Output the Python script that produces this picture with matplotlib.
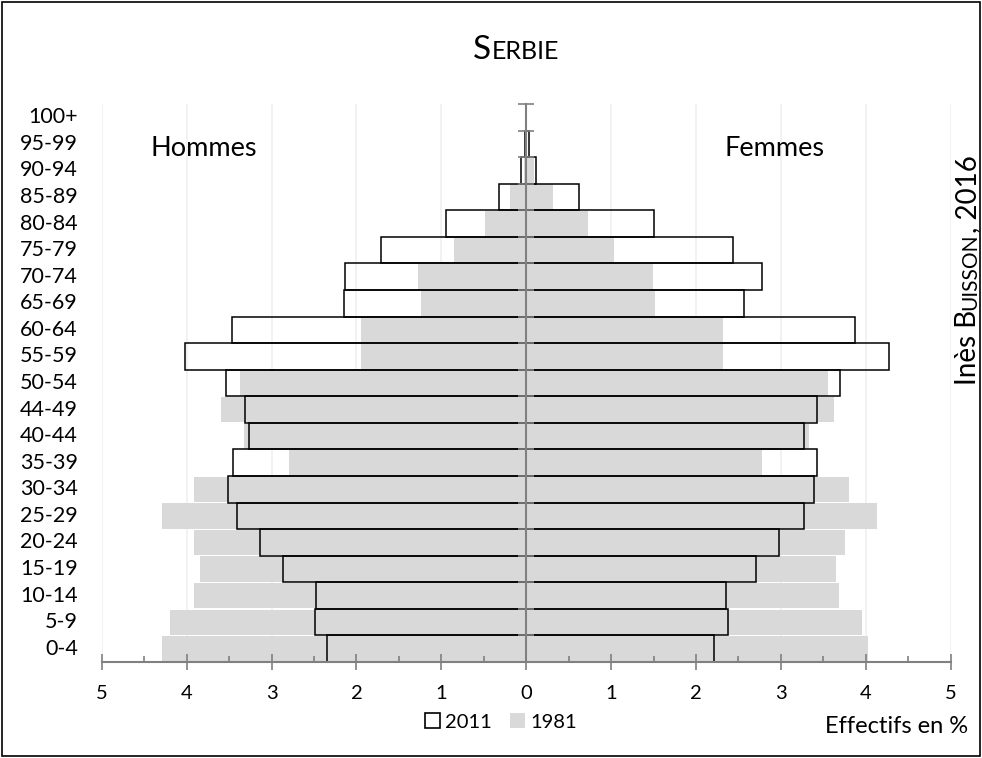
import matplotlib
matplotlib.use('Agg')
import matplotlib.pyplot as plt
import matplotlib.transforms as mtransforms
from matplotlib.patches import Patch, Rectangle
import numpy as np

plt.rcParams['font.family'] = ['Lato', 'DejaVu Sans']

ages = ['0-4', '5-9', '10-14', '15-19', '20-24', '25-29', '30-34', '35-39', '40-44', '44-49',
        '50-54', '55-59', '60-64', '65-69', '70-74', '75-79', '80-84', '85-89', '90-94', '95-99', '100+']

men_2011 = [2.35, 2.49, 2.48, 2.87, 3.13, 3.41, 3.51, 3.45, 3.26, 3.31,
            3.54, 4.02, 3.47, 2.15, 2.13, 1.71, 0.94, 0.32, 0.06, 0.02, 0.0]
women_2011 = [2.21, 2.38, 2.35, 2.71, 2.98, 3.27, 3.39, 3.42, 3.27, 3.42,
              3.70, 4.27, 3.87, 2.57, 2.78, 2.44, 1.51, 0.62, 0.12, 0.03, 0.0]
men_1981 = [4.29, 4.20, 3.91, 3.84, 3.91, 4.29, 3.91, 2.80, 3.33, 3.60,
            3.37, 1.95, 1.95, 1.24, 1.28, 0.85, 0.48, 0.19, 0.03, 0.0, 0.0]
women_1981 = [4.03, 3.95, 3.69, 3.65, 3.76, 4.13, 3.80, 2.78, 3.33, 3.62,
              3.56, 2.32, 2.32, 1.52, 1.49, 1.04, 0.73, 0.32, 0.09, 0.0, 0.0]

x_ticks = [-5, -4, -3, -2, -1, 0, 1, 2, 3, 4, 5]

GREY = '#d9d9d9'
AXIS = '#808080'


def draw_parts(fig, parts, x, y, rotation=0, center=True):
    # draws "small caps" pieces one after another, x/y in pixels
    r = fig.canvas.get_renderer()
    widths = []
    for s, size in parts:
        t = fig.text(0, 0, s, fontsize=size)
        widths.append(t.get_window_extent(r).width)
        t.remove()
    total = sum(widths)
    pos = -total / 2 if center else 0
    W, H = fig.bbox.width, fig.bbox.height
    for (s, size), w in zip(parts, widths):
        if rotation == 0:
            fig.text((x + pos) / W, y / H, s, fontsize=size, ha='left', va='baseline')
        else:
            fig.text(x / W, (y + pos) / H, s, fontsize=size, ha='left', va='baseline',
                     rotation=90, rotation_mode='anchor')
        pos += w


def main():
    fig = plt.figure(figsize=(9.82, 7.58), dpi=100)
    ax = fig.add_axes([0.1036, 0.1266, 0.8645, 0.7362])
    y = np.arange(len(ages))

    for xv in x_ticks:
        if xv != 0:
            ax.axvline(xv, color='#f0f0f0', lw=1.2, zorder=0.5)

    ax.barh(y, -np.array(men_1981), height=0.95, color=GREY, zorder=1)
    ax.barh(y, women_1981, height=0.95, color=GREY, zorder=1)
    ax.barh(y, -np.array(men_2011), height=1.0, facecolor='none', edgecolor='black', lw=1.1, zorder=2)
    ax.barh(y, women_2011, height=1.0, facecolor='none', edgecolor='black', lw=1.1, zorder=2)

    ax.set_xlim(-5, 5)
    ax.set_ylim(-0.5, len(ages) - 0.5)
    ax.set_axisbelow(False)

    for s in ['top', 'right']:
        ax.spines[s].set_visible(False)
    ax.spines['left'].set_position(('data', 0))
    ax.spines['left'].set_color(AXIS)
    ax.spines['left'].set_linewidth(1.5)
    ax.spines['left'].set_zorder(3)
    ax.spines['bottom'].set_color(AXIS)
    ax.spines['bottom'].set_linewidth(1.5)

    ax.set_yticks(np.arange(-0.5, len(ages), 1))
    ax.set_yticklabels([])
    ax.tick_params(axis='y', direction='inout', length=11, width=1.2, color=AXIS)

    ax.set_xticks(x_ticks)
    ax.set_xticklabels([str(abs(v)) for v in x_ticks], fontsize=14.5)
    ax.set_xticks(np.arange(-4.5, 5, 1), minor=True)
    ax.tick_params(axis='x', which='major', direction='inout', length=11, width=1.2, color=AXIS, pad=11)
    ax.tick_params(axis='x', which='minor', direction='in', length=4, width=1.2, color=AXIS)

    trans = mtransforms.blended_transform_factory(fig.transFigure, ax.transData)
    for i, lab in enumerate(ages):
        ax.text(0.0794, i, lab, transform=trans, ha='right', va='center', fontsize=15.5)

    ax.text(-4.42, 18.53, 'Hommes', fontsize=19.5, ha='left', va='baseline')
    ax.text(2.34, 18.53, 'Femmes', fontsize=19.5, ha='left', va='baseline')

    handles = [Patch(facecolor='white', edgecolor='black', lw=1.2, label='2011'),
               Patch(facecolor=GREY, edgecolor='none', label='1981')]
    fig.legend(handles=handles, loc='center', bbox_to_anchor=(0.51, 1 - 722 / 758), ncol=2,
               frameon=False, fontsize=14.5, handlelength=0.75, handleheight=0.75,
               handletextpad=0.25, columnspacing=0.9)

    fig.text(968 / 982, 1 - 733 / 758, 'Effectifs en %', fontsize=17, ha='right', va='baseline')

    fig.canvas.draw()
    draw_parts(fig, [('S', 24), ('ERBIE', 18)], 516, 758 - 59)
    draw_parts(fig, [('Inès B', 20), ('UISSON', 15), (', 2016', 20)], 976, 758 - 270, rotation=90)

    fig.add_artist(Rectangle((0.002, 0.002), 0.996, 0.996, transform=fig.transFigure,
                             fill=False, edgecolor='black', lw=1.2))

    fig.savefig('out.png', dpi=100)


if __name__ == '__main__':
    main()
